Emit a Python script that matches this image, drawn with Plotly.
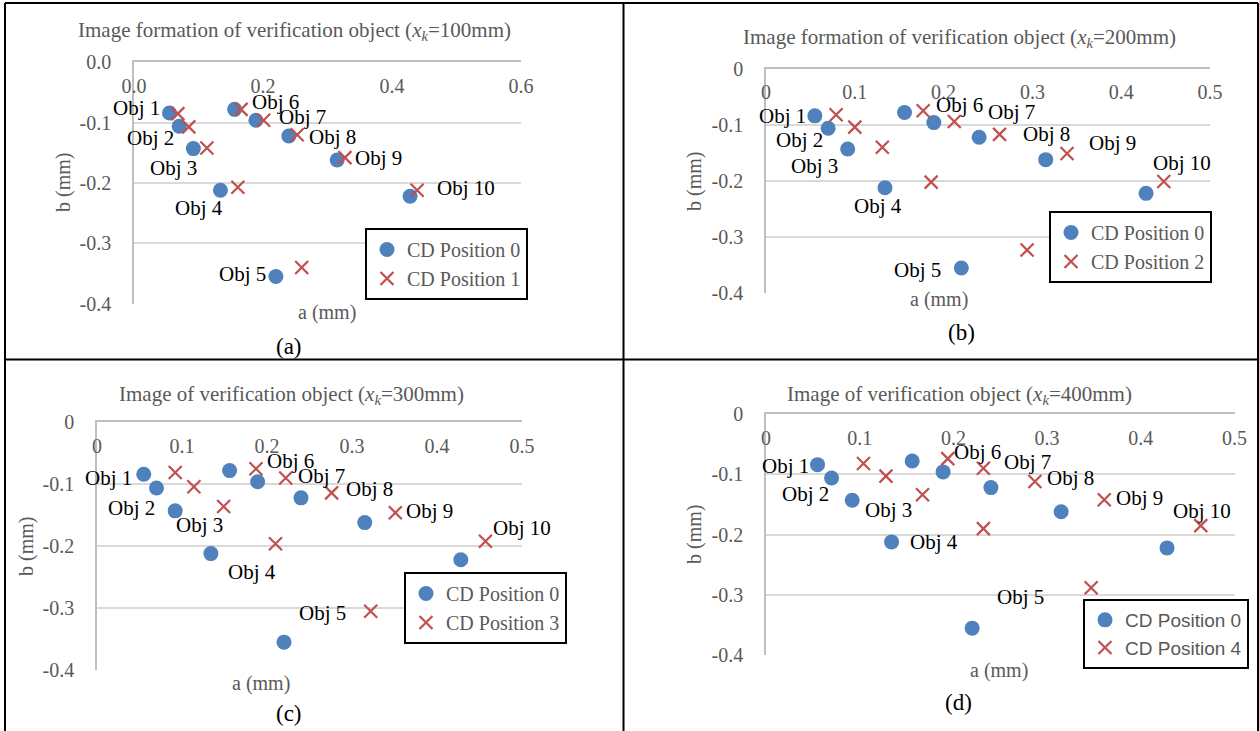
import plotly.graph_objects as go

W, H = 1259, 731

obj_labels = ["Obj 1", "Obj 2", "Obj 3", "Obj 4", "Obj 5",
              "Obj 6", "Obj 7", "Obj 8", "Obj 9", "Obj 10"]

# CD Position 0 (reference, same in all panels)
a_pos0 = [0.055, 0.070, 0.092, 0.134, 0.220, 0.156, 0.189, 0.240, 0.315, 0.428]
b_pos0 = [-0.084, -0.106, -0.143, -0.212, -0.355, -0.078, -0.096, -0.122, -0.162, -0.222]
# CD Position 1 (x_k = 100 mm)
a_pos1 = [0.068, 0.085, 0.113, 0.161, 0.260, 0.166, 0.201, 0.253, 0.327, 0.439]
b_pos1 = [-0.085, -0.107, -0.142, -0.207, -0.340, -0.078, -0.096, -0.120, -0.158, -0.212]
# CD Position 2 (x_k = 200 mm)
a_pos2 = [0.079, 0.100, 0.131, 0.186, 0.294, 0.177, 0.212, 0.263, 0.339, 0.448]
b_pos2 = [-0.082, -0.104, -0.140, -0.202, -0.323, -0.075, -0.094, -0.117, -0.151, -0.201]
# CD Position 3 (x_k = 300 mm)
a_pos3 = [0.092, 0.114, 0.149, 0.210, 0.322, 0.187, 0.222, 0.276, 0.351, 0.457]
b_pos3 = [-0.081, -0.104, -0.136, -0.196, -0.305, -0.075, -0.090, -0.114, -0.146, -0.192]
# CD Position 4 (x_k = 400 mm)
a_pos4 = [0.104, 0.128, 0.167, 0.232, 0.347, 0.194, 0.232, 0.287, 0.361, 0.464]
b_pos4 = [-0.082, -0.103, -0.134, -0.190, -0.288, -0.074, -0.090, -0.112, -0.142, -0.185]

# tick values / labels
x_ticks_a = [0.0, 0.2, 0.4, 0.6]
x_ticktext_a = ["0.0", "0.2", "0.4", "0.6"]
x_ticks = [0, 0.1, 0.2, 0.3, 0.4, 0.5]
x_ticktext = ["0", "0.1", "0.2", "0.3", "0.4", "0.5"]
y_ticks = [0, -0.1, -0.2, -0.3, -0.4]
y_ticktext_a = ["0.0", "-0.1", "-0.2", "-0.3", "-0.4"]
y_ticktext = ["0", "-0.1", "-0.2", "-0.3", "-0.4"]

panel_titles = [
    "Image formation of verification object (<i>x</i><sub><i>k</i></sub>=100mm)",
    "Image formation of verification object (<i>x</i><sub><i>k</i></sub>=200mm)",
    "Image of verification object (<i>x</i><sub><i>k</i></sub>=300mm)",
    "Image of verification object (<i>x</i><sub><i>k</i></sub>=400mm)",
]
captions = ["(a)", "(b)", "(c)", "(d)"]
series_names = ["CD Position 1", "CD Position 2", "CD Position 3", "CD Position 4"]

# ---- styling / layout (pixels) ----
SERIF = "Liberation Serif"
SANS = "Liberation Sans"
GRAY = "#595959"
BLUE = "#4F81BD"
RED = "#C0504D"
GRID = "#D9D9D9"

panels = [
    dict(px=(134, 521), py=(62.3, 303.7), xmax=0.6,
         xt=(x_ticks_a, x_ticktext_a), yt=(y_ticks, y_ticktext_a),
         data=(a_pos1, b_pos1), title_c=(294, 31), cap_c=(289, 346),
         xt_c=(327, 313), yt_c=(63, 183), leg=(365, 228), legfont=SERIF,
         offs=[(0, -32.5, -5), (0, -28.5, 12), (0, -20, 19), (0, -21, 18), (0, -33, -3),
               (1, 34, -7), (1, 39, -3), (1, 35, 2), (1, 34, 0), (1, 49, -2)]),
    dict(px=(766, 1210), py=(68.7, 293.3), xmax=0.5,
         xt=(x_ticks, x_ticktext), yt=(y_ticks, y_ticktext),
         data=(a_pos2, b_pos2), title_c=(959, 38), cap_c=(961, 332),
         xt_c=(939, 299), yt_c=(694, 182), leg=(1049, 211), legfont=SERIF,
         offs=[(0, -32.5, 0), (0, -29, 12), (0, -33.7, 17), (0, -7, 18), (0, -44, 2),
               (1, 36, -6), (1, 57, -9), (1, 47, 0), (1, 45, -10), (1, 18, -19)]),
    dict(px=(97, 522), py=(422.3, 670), xmax=0.5,
         xt=(x_ticks, x_ticktext), yt=(y_ticks, y_ticktext),
         data=(a_pos3, b_pos3), title_c=(291, 395), cap_c=(289, 713),
         xt_c=(261, 683), yt_c=(26, 547), leg=(404, 572), legfont=SERIF,
         offs=[(0, -35, 4), (0, -25, 20), (0, 24.5, 14), (0, 40.6, 18), (1, -48, 2),
               (1, 34.5, -8), (1, 36, -2), (1, 38, -4), (1, 34.5, -2), (1, 36.5, -13)]),
    dict(px=(766, 1234.5), py=(414, 655.3), xmax=0.5,
         xt=(x_ticks, x_ticktext), yt=(y_ticks, y_ticktext),
         data=(a_pos4, b_pos4), title_c=(959, 395), cap_c=(958, 702),
         xt_c=(999, 670), yt_c=(694, 535), leg=(1083, 599), legfont=SANS,
         offs=[(0, -32, 1), (0, -26, 16), (1, -34, 15), (0, 42.6, 0), (0, 48.6, -31),
               (1, 30, -7), (1, 44.6, -6), (1, 35.7, -4), (1, 35.7, -2), (1, 1, -15)]),
]


def fx(p):
    return p / W


def fy(p):
    return 1 - p / H


fig = go.Figure()
annotations = []
layout = {}

for i, p in enumerate(panels):
    n = i + 1
    sx = "" if n == 1 else str(n)
    xid, yid = "x" + sx, "y" + sx
    leg_id = "legend" + sx
    a_other, b_other = p["data"]

    fig.add_trace(go.Scatter(
        x=a_pos0, y=b_pos0, mode="markers", name="CD Position 0",
        marker=dict(symbol="circle", size=15, color=BLUE),
        xaxis=xid, yaxis=yid, legend=leg_id, cliponaxis=False))
    fig.add_trace(go.Scatter(
        x=a_other, y=b_other, mode="markers", name=series_names[i],
        marker=dict(symbol="x-thin", size=13, color=RED,
                    line=dict(width=2.2, color=RED)),
        xaxis=xid, yaxis=yid, legend=leg_id, cliponaxis=False))

    xa = dict(domain=[fx(p["px"][0]), fx(p["px"][1])], range=[0, p["xmax"]],
              tickmode="array", tickvals=p["xt"][0], ticktext=p["xt"][1],
              side="top", anchor=yid, automargin=False,
              ticklabelposition="inside", ticklabeloverflow="allow",
              ticklabelstandoff=18,
              showline=True, linecolor="#BFBFBF", linewidth=1.5,
              showgrid=False, zeroline=False, ticks="",
              tickfont=dict(family=SERIF, size=20, color=GRAY))
    ya = dict(domain=[fy(p["py"][1]), fy(p["py"][0])], range=[-0.4, 0],
              tickmode="array", tickvals=p["yt"][0], ticktext=p["yt"][1],
              anchor=xid, ticklabeloverflow="allow", automargin=False,
              showline=True, linecolor="#BFBFBF", linewidth=1.5,
              showgrid=True, gridcolor=GRID, gridwidth=1.5, zeroline=False,
              ticks="", ticklabelstandoff=17,
              tickfont=dict(family=SERIF, size=20, color=GRAY))
    layout["xaxis" + sx] = xa
    layout["yaxis" + sx] = ya

    layout[leg_id] = dict(
        x=fx(p["leg"][0]), y=fy(p["leg"][1]), xanchor="left", yanchor="top",
        bordercolor="black", borderwidth=2, bgcolor="white",
        font=dict(family=p["legfont"], size=20 if p["legfont"] == SERIF else 19, color=GRAY),
        tracegroupgap=0, itemwidth=30)

    # title, caption, axis titles
    annotations.append(dict(text=panel_titles[i], x=fx(p["title_c"][0]), y=fy(p["title_c"][1]),
                            xref="paper", yref="paper", showarrow=False,
                            xanchor="center", yanchor="middle",
                            font=dict(family=SERIF, size=21, color=GRAY)))
    annotations.append(dict(text=captions[i], x=fx(p["cap_c"][0]), y=fy(p["cap_c"][1]),
                            xref="paper", yref="paper", showarrow=False,
                            xanchor="center", yanchor="middle",
                            font=dict(family=SERIF, size=23, color="black")))
    annotations.append(dict(text="a (mm)", x=fx(p["xt_c"][0]), y=fy(p["xt_c"][1]),
                            xref="paper", yref="paper", showarrow=False,
                            xanchor="center", yanchor="middle",
                            font=dict(family=SERIF, size=20, color=GRAY)))
    annotations.append(dict(text="b (mm)", x=fx(p["yt_c"][0]), y=fy(p["yt_c"][1]),
                            xref="paper", yref="paper", showarrow=False, textangle=-90,
                            xanchor="center", yanchor="middle",
                            font=dict(family=SERIF, size=20, color=GRAY)))

    # object labels
    for k, (ser, dx, dy) in enumerate(p["offs"]):
        if ser == 0:
            ax_, ay_ = a_pos0[k], b_pos0[k]
        else:
            ax_, ay_ = a_other[k], b_other[k]
        annotations.append(dict(text=obj_labels[k], x=ax_, y=ay_, xref=xid, yref=yid,
                                showarrow=False, xanchor="center", yanchor="middle",
                                xshift=dx, yshift=-dy,
                                font=dict(family=SERIF, size=21, color="black")))

# table borders
lw = 2
shapes = []
for (x0, y0, x1, y1) in [
    (5, 3, 1258, 3),        # top
    (5, 3, 5, 731),         # left
    (1258, 3, 1258, 731),   # right
    (623.5, 3, 623.5, 731), # middle vertical
    (5, 359.5, 1258, 359.5) # middle horizontal
]:
    shapes.append(dict(type="line", xref="paper", yref="paper",
                       x0=fx(x0), y0=fy(y0), x1=fx(x1), y1=fy(y1),
                       line=dict(color="black", width=lw)))

fig.update_layout(
    width=W, height=H, margin=dict(l=0, r=0, t=0, b=0, autoexpand=False),
    paper_bgcolor="white", plot_bgcolor="white",
    showlegend=True, annotations=annotations, shapes=shapes,
    **layout)

fig.write_html("out.html")
